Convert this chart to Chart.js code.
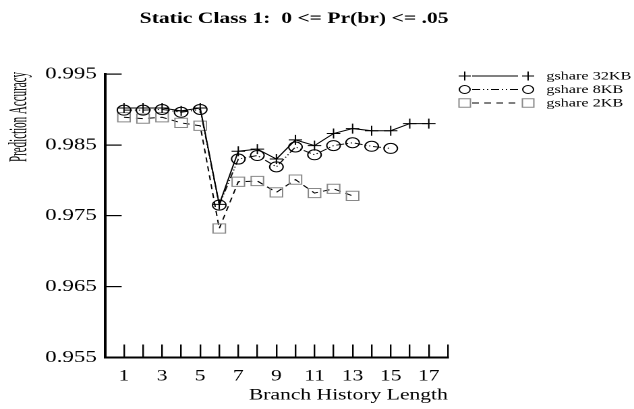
<!DOCTYPE html>
<html>
<head>
<meta charset="utf-8">
<script src="https://cdn.jsdelivr.net/npm/chart.js@4"></script>
<style>
  body { margin: 0; background: #fff; }
  #chart { display: block; }
</style>
</head>
<body>
<!-- the source figure is stretched sideways, so the canvas is drawn narrow and widened by css -->
<canvas id="chart" width="470" height="409" style="width:634px;height:409px"></canvas>
<script>
const historyLength = [1, 2, 3, 4, 5, 6, 7, 8, 9, 10, 11, 12, 13, 14, 15, 16, 17];
const gshare32KB = [0.9902, 0.9902, 0.9902, 0.9898, 0.9902, 0.9766, 0.9841, 0.9844, 0.9830, 0.9857, 0.9849, 0.9866, 0.9873, 0.9870, 0.9870, 0.9880, 0.9880];
const gshare8KB = [0.9899, 0.9899, 0.9900, 0.9896, 0.9900, 0.9765, 0.9830, 0.9835, 0.9819, 0.9847, 0.9836, 0.9849, 0.9853, 0.9848, 0.9845];
const gshare2KB = [0.9889, 0.9887, 0.9889, 0.9881, 0.9877, 0.9732, 0.9798, 0.9799, 0.9783, 0.9801, 0.9782, 0.9788, 0.9778];
const seriesNames = ['gshare 32KB', 'gshare 8KB', 'gshare 2KB'];
const yTicks = [0.955, 0.965, 0.975, 0.985, 0.995];
const xTicks = [0, 1, 2, 3, 4, 5, 6, 7, 8, 9, 10, 11, 12, 13, 14, 15, 16, 17, 18];
const xTickLabels = ['', '1', '', '3', '', '5', '', '7', '', '9', '', '11', '', '13', '', '15', '', '17', ''];

const serif = '"Liberation Serif", "Times New Roman", serif';
Chart.defaults.font.family = serif;
Chart.defaults.color = '#000';

function toPoints(values) {
  return values.map((v, i) => ({ x: historyLength[i], y: v }));
}

// title drawn by hand so it can sit off-centre like the original
const titlePlugin = {
  id: 'plotTitle',
  afterDraw(chart) {
    const ctx = chart.ctx;
    ctx.save();
    ctx.font = 'bold 16px ' + serif;
    ctx.fillStyle = '#000';
    ctx.textAlign = 'center';
    ctx.textBaseline = 'middle';
    ctx.fillText('Static Class 1:  0 <= Pr(br) <= .05', 218, 19);
    ctx.restore();
  }
};

// y label is squeezed along its length in the original, so draw it here
const yLabelPlugin = {
  id: 'yLabel',
  afterDraw(chart) {
    const ctx = chart.ctx;
    const top = chart.scales.y.top;
    const text = 'Prediction Accuracy';
    ctx.save();
    ctx.font = '19px ' + serif;
    ctx.fillStyle = '#000';
    const w = ctx.measureText(text).width;
    ctx.translate(14.5, top - 2);
    ctx.rotate(-Math.PI / 2);
    ctx.scale(90 / w, 1);
    ctx.textAlign = 'right';
    ctx.textBaseline = 'middle';
    ctx.fillText(text, 0, 0);
    ctx.restore();
  }
};

// legend: marker, line, marker, name
const legendPlugin = {
  id: 'markerLegend',
  afterDraw(chart) {
    const ctx = chart.ctx;
    chart.data.datasets.forEach((ds, i) => {
      const y = 76 + i * 13.5;
      ctx.save();
      ctx.strokeStyle = '#000';
      ctx.lineWidth = 1;
      ctx.setLineDash(ds.borderDash || []);
      ctx.beginPath();
      ctx.moveTo(350, y);
      ctx.lineTo(384, y);
      ctx.stroke();
      ctx.setLineDash([]);
      ctx.strokeStyle = ds.pointBorderColor;
      ctx.fillStyle = 'rgba(0,0,0,0)';
      [344.5, 391.5].forEach(x => {
        Chart.helpers.drawPoint(ctx, {
          pointStyle: ds.pointStyle,
          radius: ds.legendRadius,
          borderWidth: 1,
          rotation: 0
        }, x, y);
      });
      ctx.font = '12px ' + serif;
      ctx.fillStyle = '#000';
      ctx.textAlign = 'left';
      ctx.textBaseline = 'middle';
      ctx.fillText(ds.label, 405, y + 0.5);
      ctx.restore();
    });
  }
};

new Chart(document.getElementById('chart'), {
  type: 'line',
  data: {
    datasets: [
      {
        label: seriesNames[0],
        data: toPoints(gshare32KB),
        borderColor: '#000',
        borderWidth: 1,
        pointStyle: 'cross',
        pointRadius: 5,
        legendRadius: 4.5,
        pointBorderColor: '#000',
        pointBorderWidth: 1,
        pointBackgroundColor: 'rgba(0,0,0,0)'
      },
      {
        label: seriesNames[1],
        data: toPoints(gshare8KB),
        borderColor: '#111',
        borderWidth: 1,
        borderDash: [6, 2, 1, 2, 1, 2],
        pointStyle: 'circle',
        pointRadius: 5,
        legendRadius: 4,
        pointBorderColor: '#000',
        pointBorderWidth: 1,
        pointBackgroundColor: 'rgba(0,0,0,0)'
      },
      {
        label: seriesNames[2],
        data: toPoints(gshare2KB),
        borderColor: '#000',
        borderWidth: 1,
        borderDash: [5, 4],
        pointStyle: 'rect',
        pointRadius: 6.5,
        legendRadius: 6,
        pointBorderColor: '#888',
        pointBorderWidth: 1,
        pointBackgroundColor: 'rgba(0,0,0,0)'
      }
    ]
  },
  options: {
    responsive: false,
    devicePixelRatio: 2,
    animation: false,
    layout: { padding: { top: 74, right: 138, left: 0, bottom: 0 } },
    plugins: {
      legend: { display: false },
      title: { display: false },
      tooltip: { enabled: false }
    },
    scales: {
      x: {
        type: 'linear',
        min: 0,
        max: 18,
        afterBuildTicks: (scale) => { scale.ticks = xTicks.map(v => ({ value: v })); },
        afterFit: (scale) => { scale.height = 51.5; },
        border: { display: true, color: '#000', width: 2 },
        grid: {
          drawOnChartArea: false,
          drawTicks: true,
          tickLength: -13,
          color: '#000',
          lineWidth: 1.2
        },
        ticks: {
          autoSkip: false,
          maxRotation: 0,
          padding: 22,
          font: { size: 16 },
          callback: (value, index) => xTickLabels[index]
        },
        title: {
          display: true,
          text: 'Branch History Length',
          align: 'end',
          font: { size: 16 },
          padding: { top: 0, bottom: 4 }
        }
      },
      y: {
        min: 0.955,
        max: 0.995,
        afterBuildTicks: (scale) => { scale.ticks = yTicks.map(v => ({ value: v })); },
        afterFit: (scale) => { scale.width = 77.8; },
        border: { display: true, color: '#000', width: 2 },
        grid: {
          drawOnChartArea: false,
          drawTicks: true,
          tickLength: -12.4,
          color: '#000',
          lineWidth: 1.2
        },
        ticks: {
          padding: 18.4,
          font: { size: 17 },
          callback: (value) => Number(value).toFixed(3)
        },
        title: { display: false }
      }
    }
  },
  plugins: [titlePlugin, yLabelPlugin, legendPlugin]
});
</script>
</body>
</html>
